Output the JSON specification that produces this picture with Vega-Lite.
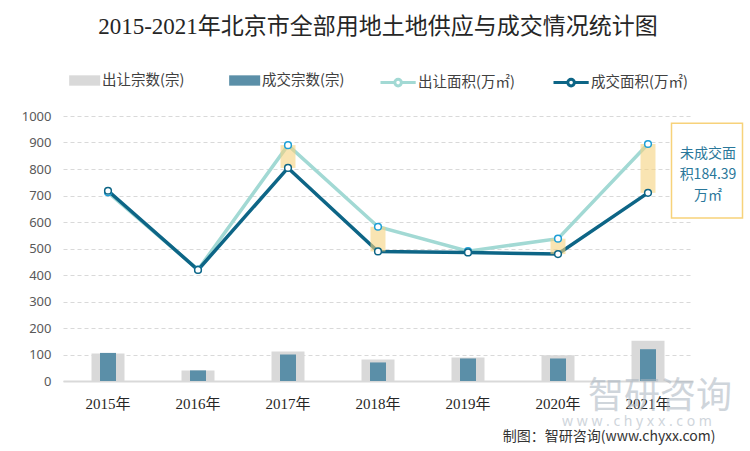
{
  "$schema": "https://vega.github.io/schema/vega-lite/v6.json",
  "width": 630,
  "height": 265,
  "autosize": "none",
  "padding": {"left": 63, "top": 116, "right": 57, "bottom": 70},
  "background": "white",
  "title": {
    "text": "2015-2021年北京市全部用地土地供应与成交情况统计图",
    "font": "Liberation Serif, Noto Sans CJK SC",
    "fontSize": 23,
    "fontWeight": "normal",
    "color": "#262626",
    "anchor": "middle",
    "offset": 31
  },
  "data": {
    "values": [
      {"year": "2015年", "出让宗数": 104, "成交宗数": 106, "出让面积": 712, "成交面积": 718},
      {"year": "2016年", "出让宗数": 40, "成交宗数": 40, "出让面积": 420, "成交面积": 419},
      {"year": "2017年", "出让宗数": 111, "成交宗数": 100, "出让面积": 890, "成交面积": 804},
      {"year": "2018年", "出让宗数": 81, "成交宗数": 70, "出让面积": 582, "成交面积": 489},
      {"year": "2019年", "出让宗数": 89, "成交宗数": 85, "出让面积": 490, "成交面积": 485},
      {"year": "2020年", "出让宗数": 97, "成交宗数": 85, "出让面积": 537, "成交面积": 479},
      {"year": "2021年", "出让宗数": 152, "成交宗数": 120, "出让面积": 894.39, "成交面积": 710}
    ]
  },
  "encoding": {
    "x": {
      "field": "year",
      "type": "nominal",
      "sort": null,
      "scale": {"paddingInner": 0, "paddingOuter": 0},
      "axis": {
        "title": "制图：智研咨询(www.chyxx.com)",
        "titleFont": "Noto Sans CJK SC",
        "titleFontSize": 14,
        "titleFontWeight": "normal",
        "titleColor": "#333333",
        "titleAlign": "right",
        "titleAnchor": null,
        "titleX": 652,
        "titleY": 55,
        "titleBaseline": "middle",
        "labelAngle": 0,
        "labelFont": "Liberation Serif, Noto Sans CJK SC",
        "labelFontSize": 15,
        "labelColor": "#262626",
        "labelPadding": 15,
        "ticks": false,
        "domainColor": "#D9D9D9",
        "domainWidth": 2,
        "grid": false
      }
    }
  },
  "layer": [
    {
      "mark": {"type": "bar", "width": 33},
      "encoding": {
        "y": {
          "field": "出让宗数",
          "type": "quantitative",
          "scale": {"domain": [0, 1000], "nice": false},
          "axis": {
            "title": null,
            "values": [0, 100, 200, 300, 400, 500, 600, 700, 800, 900, 1000],
            "format": "d",
            "labelOverlap": false,
            "labelFont": "Noto Sans",
            "labelFontSize": 13,
            "labelColor": "#595959",
            "labelPadding": 12,
            "ticks": false,
            "domain": false,
            "gridColor": "#D9D9D9",
            "gridDash": [4, 3],
            "gridWidth": 1
          }
        },
        "fill": {
          "datum": "出让宗数(宗)",
          "scale": {"domain": ["出让宗数(宗)", "成交宗数(宗)"], "range": ["#D9D9D9", "#5B8FA8"]},
          "legend": {
            "title": null,
            "orient": "top",
            "direction": "horizontal",
            "symbolType": "M-1,-0.5H2V0.5H-1Z",
            "symbolSize": 428,
            "symbolStrokeWidth": 0,
            "labelOffset": 12,
            "labelFont": "Noto Sans CJK SC",
            "labelFontSize": 14.5,
            "labelColor": "#404040",
            "columnPadding": 44,
            "offset": 24
          }
        }
      }
    },
    {
      "mark": {"type": "bar", "width": 16},
      "encoding": {
        "y": {"field": "成交宗数", "type": "quantitative", "axis": {"values": [0, 100, 200, 300, 400, 500, 600, 700, 800, 900, 1000], "labelOverlap": false}},
        "fill": {"datum": "成交宗数(宗)"}
      }
    },
    {
      "mark": {"type": "line", "strokeWidth": 3.5},
      "encoding": {
        "y": {"field": "出让面积", "type": "quantitative", "axis": {"values": [0, 100, 200, 300, 400, 500, 600, 700, 800, 900, 1000], "labelOverlap": false}},
        "stroke": {
          "datum": "出让面积(万㎡)",
          "scale": {"domain": ["出让面积(万㎡)", "成交面积(万㎡)"], "range": ["#A2D9D4", "#0D6586"]},
          "legend": {
            "title": null,
            "orient": "top",
            "direction": "horizontal",
            "symbolType": "M-1,0H0.3M0.9,0H2.2M0.3,0A0.3,0.3,0,1,0,0.9,0A0.3,0.3,0,1,0,0.3,0",
            "symbolSize": 484,
            "symbolStrokeWidth": 3,
            "symbolFillColor": "white",
            "labelOffset": 14,
            "labelFont": "Noto Sans CJK SC",
            "labelFontSize": 14.5,
            "labelColor": "#404040",
            "columnPadding": 32,
            "offset": 24
          }
        }
      }
    },
    {
      "mark": {"type": "line", "strokeWidth": 3.5},
      "encoding": {
        "y": {"field": "成交面积", "type": "quantitative", "axis": {"values": [0, 100, 200, 300, 400, 500, 600, 700, 800, 900, 1000], "labelOverlap": false}},
        "stroke": {"datum": "成交面积(万㎡)"}
      }
    },
    {
      "transform": [{"filter": {"field": "year", "oneOf": ["2017年", "2018年", "2020年", "2021年"]}}],
      "mark": {"type": "bar", "width": 15, "fill": "#F5D27F", "opacity": 0.6},
      "encoding": {
        "y": {"field": "成交面积", "type": "quantitative", "axis": {"values": [0, 100, 200, 300, 400, 500, 600, 700, 800, 900, 1000], "labelOverlap": false}},
        "y2": {"field": "出让面积"}
      }
    },
    {
      "mark": {"type": "point", "shape": "circle", "size": 45, "filled": false, "fill": "white", "fillOpacity": 1, "stroke": "#1E9FD6", "strokeWidth": 1.5, "opacity": 1},
      "encoding": {
        "y": {"field": "出让面积", "type": "quantitative", "axis": {"values": [0, 100, 200, 300, 400, 500, 600, 700, 800, 900, 1000], "labelOverlap": false}}
      }
    },
    {
      "mark": {"type": "point", "shape": "circle", "size": 45, "filled": false, "fill": "white", "fillOpacity": 1, "stroke": "#0D6586", "strokeWidth": 1.5, "opacity": 1},
      "encoding": {
        "y": {"field": "成交面积", "type": "quantitative", "axis": {"values": [0, 100, 200, 300, 400, 500, 600, 700, 800, 900, 1000], "labelOverlap": false}}
      }
    },
    {
      "data": {"values": [{"label": "未成交面\n积184.39\n万㎡"}]},
      "mark": {"type": "bar", "width": 71, "xOffset": 59, "fill": "white", "stroke": "#F7D27A", "strokeWidth": 1.5},
      "encoding": {
        "x": {"datum": "2021年"},
        "y": {"datum": 615, "axis": {"values": [0, 100, 200, 300, 400, 500, 600, 700, 800, 900, 1000], "labelOverlap": false}},
        "y2": {"datum": 973}
      }
    },
    {
      "data": {"values": [{"label": "未成交面\n积184.39\n万㎡"}]},
      "mark": {"type": "text", "dx": 60, "fontSize": 14, "fontWeight": "normal", "font": "Noto Sans CJK SC", "color": "#2A779A", "lineBreak": "\n", "lineHeight": 21, "align": "center", "baseline": "middle"},
      "encoding": {
        "x": {"datum": "2021年"},
        "y": {"datum": 855, "axis": {"values": [0, 100, 200, 300, 400, 500, 600, 700, 800, 900, 1000], "labelOverlap": false}},
        "text": {"field": "label"}
      }
    },
    {
      "data": {"values": [{"label": "智研咨询"}]},
      "mark": {"type": "text", "dx": 12, "fontSize": 36, "font": "Noto Sans CJK SC", "color": "#A9B4BF", "opacity": 0.55, "align": "center", "baseline": "middle"},
      "encoding": {
        "x": {"datum": "2021年"},
        "y": {"datum": -60, "axis": {"values": [0, 100, 200, 300, 400, 500, 600, 700, 800, 900, 1000], "labelOverlap": false}},
        "text": {"field": "label"}
      }
    },
    {
      "data": {"values": [{"label": "w w w . c h y x x . c o m"}]},
      "mark": {"type": "text", "dx": -11, "fontSize": 14, "font": "Noto Sans", "color": "#A9B4BF", "opacity": 0.55, "align": "center", "baseline": "middle"},
      "encoding": {
        "x": {"datum": "2021年"},
        "y": {"datum": -155, "axis": {"values": [0, 100, 200, 300, 400, 500, 600, 700, 800, 900, 1000], "labelOverlap": false}},
        "text": {"field": "label"}
      }
    }
  ],
  "config": {
    "view": {"stroke": null},
    "axis": {"labelOverlap": false},
    "axisY": {"labelOverlap": false},
    "legend": {"layout": {"top": {"anchor": "middle", "direction": "horizontal", "margin": 34}}}
  }
}
